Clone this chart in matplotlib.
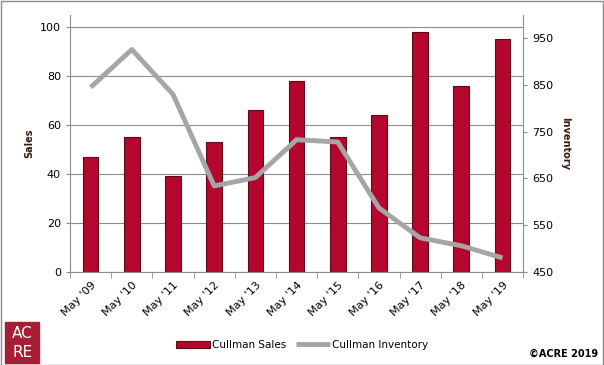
import matplotlib.pyplot as plt
from matplotlib.patches import Rectangle
import numpy as np

months = ["May '09", "May '10", "May '11", "May '12", "May '13", "May '14",
          "May '15", "May '16", "May '17", "May '18", "May '19"]
sales = [47, 55, 39, 53, 66, 78, 55, 64, 98, 76, 95]
inventory = [845, 926, 830, 634, 652, 733, 728, 587, 523, 506, 480]

fig = plt.figure(figsize=(6.04, 3.65), dpi=100)
ax = fig.add_axes([0.116, 0.255, 0.75, 0.704])
x = np.arange(len(months))

ax.bar(x, sales, width=0.38, color="#B5062D", edgecolor="#5a0a18", linewidth=0.8,
       label="Cullman Sales", zorder=2)
ax.set_ylim(0, 105)
ax.set_yticks(range(0, 101, 20))
ax.set_xlim(-0.5, len(months) - 0.5)
ax.set_xticks(x)
ax.set_xticks(np.arange(-0.5, len(months), 1), minor=True)
ax.set_xticklabels(months, rotation=45, ha="right", rotation_mode="anchor")
ax.grid(axis="y", color="#8c8c8c", linewidth=0.8, zorder=0)
ax.tick_params(labelsize=8, length=3, color="#8c8c8c")
ax.tick_params(axis="x", which="major", length=0, pad=6)
ax.tick_params(axis="x", which="minor", length=4, color="#8c8c8c")
ax.set_ylabel("Sales", fontsize=7, fontweight="bold", color="#3a1a0a")
for s in ["top", "right"]:
    ax.spines[s].set_visible(False)
ax.spines["left"].set_color("#8c8c8c")
ax.spines["bottom"].set_color("#8c8c8c")

ax2 = ax.twinx()
ax2.plot(x, inventory, color="#A6A6A6", linewidth=3.5, label="Cullman Inventory",
         solid_capstyle="butt")
ax2.set_ylim(450, 1000)
ax2.set_yticks(range(450, 951, 100))
ax2.tick_params(labelsize=8, length=3, color="#8c8c8c")
ax2.set_ylabel("Inventory", fontsize=7, fontweight="bold", color="#3a1a0a",
               rotation=-90, labelpad=12)
for s in ["top", "left", "bottom"]:
    ax2.spines[s].set_visible(False)
ax2.spines["right"].set_color("#8c8c8c")

h1, l1 = ax.get_legend_handles_labels()
h2, l2 = ax2.get_legend_handles_labels()
fig.legend(h1 + h2, l1 + l2, loc="center", bbox_to_anchor=(0.5, 0.055), ncol=2,
           frameon=False, fontsize=7.5, handlelength=3.2, columnspacing=1.0,
           handletextpad=0.2)

# logo and copyright
fig.patches.append(Rectangle((0.009, 0.005), 0.056, 0.112, transform=fig.transFigure,
                             color="#A51E36"))
fig.text(0.037, 0.087, "AC", color="white", fontsize=11, ha="center", va="center")
fig.text(0.037, 0.035, "RE", color="white", fontsize=11, ha="center", va="center")
fig.text(0.99, 0.03, "©ACRE 2019", fontsize=7, fontweight="bold", ha="right", va="center")
fig.patches.append(Rectangle((0.001, 0.001), 0.997, 0.996, transform=fig.transFigure,
                             fill=False, edgecolor="#8c8c8c", linewidth=1))

fig.savefig("out.png", dpi=100)
